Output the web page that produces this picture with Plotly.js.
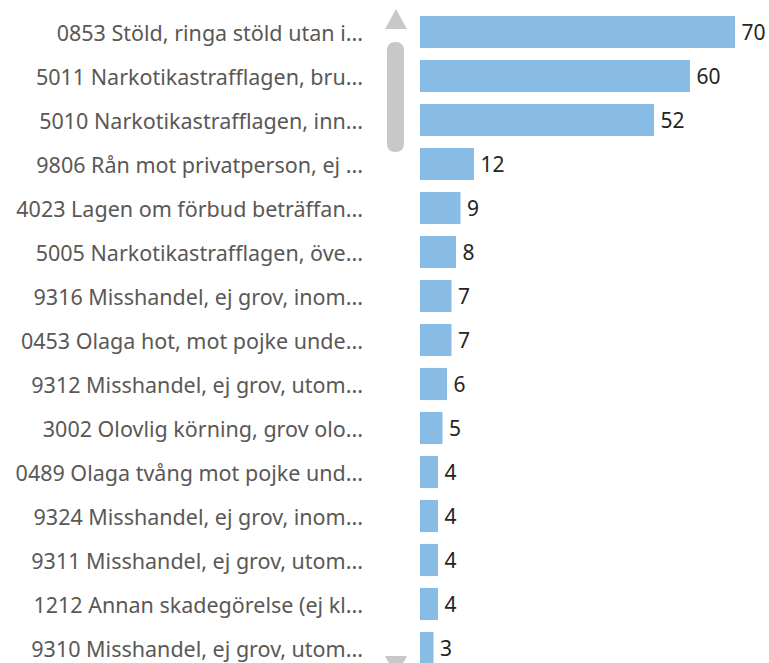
<!DOCTYPE html>
<html><head><meta charset="utf-8">
<script src="https://cdn.plot.ly/plotly-3.0.1.min.js"></script>
<style>html,body{margin:0;padding:0;background:#fff;}#chart{width:769px;height:663px;}</style>
</head><body><div id="chart"></div>
<script>
const categories = [
  "0853 Stöld, ringa stöld utan i...",
  "5011 Narkotikastrafflagen, bru...",
  "5010 Narkotikastrafflagen, inn...",
  "9806 Rån mot privatperson, ej ...",
  "4023 Lagen om förbud beträffan...",
  "5005 Narkotikastrafflagen, öve...",
  "9316 Misshandel, ej grov, inom...",
  "0453 Olaga hot, mot pojke unde...",
  "9312 Misshandel, ej grov, utom...",
  "3002 Olovlig körning, grov olo...",
  "0489 Olaga tvång mot pojke und...",
  "9324 Misshandel, ej grov, inom...",
  "9311 Misshandel, ej grov, utom...",
  "1212 Annan skadegörelse (ej kl...",
  "9310 Misshandel, ej grov, utom..."
];
const values = [70, 60, 52, 12, 9, 8, 7, 7, 6, 5, 4, 4, 4, 4, 3];

const W = 769, H = 663, L = 420;
const PW = W - L;
const X = px => (px - L) / PW;
const Y = py => 1 - py / H;
const scroll = '#c8c8c8';

// scrollbar decorations (pixel positions converted to paper coords)
const tx0 = 385, tx1 = 407, tyA = 9, tyB = 29;
const up = `M${X(tx0)},${Y(tyB)} L${X((tx0+tx1)/2)},${Y(tyA)} L${X(tx1)},${Y(tyB)} Z`;
const dyA = 656, dyB = 676;
const down = `M${X(tx0)},${Y(dyA)} L${X(tx1)},${Y(dyA)} L${X((tx0+tx1)/2)},${Y(dyB)} Z`;
const rx0 = 387, rx1 = 404, ry0 = 42, ry1 = 152, r = 8.5;
const thumb = `M${X(rx0)},${Y(ry0+r)} Q${X(rx0)},${Y(ry0)} ${X(rx0+r)},${Y(ry0)} Q${X(rx1)},${Y(ry0)} ${X(rx1)},${Y(ry0+r)} L${X(rx1)},${Y(ry1-r)} Q${X(rx1)},${Y(ry1)} ${X(rx1-r)},${Y(ry1)} Q${X(rx0)},${Y(ry1)} ${X(rx0)},${Y(ry1-r)} Z`;

const trace = {
  type: 'bar', orientation: 'h',
  x: values, y: categories,
  marker: {color: '#89bce5', line: {width: 0}},
  text: values.map(v => '\u2009' + v), textposition: 'outside',
  textfont: {family: 'Noto Sans, sans-serif', size: 21, color: '#252423'},
  cliponaxis: false, hoverinfo: 'none'
};
const pxPerUnit = 4.5;
const layout = {
  width: W, height: H,
  margin: {l: L, r: 0, t: 0, b: 0, pad: 0},
  paper_bgcolor: '#ffffff', plot_bgcolor: '#ffffff',
  bargap: 0.27,
  showlegend: false,
  xaxis: {range: [0, PW / pxPerUnit], visible: false, fixedrange: true},
  yaxis: {
    type: 'category', autorange: false,
    range: [(H - 32) / 44, -32 / 44],
    showgrid: false, zeroline: false, showline: false, ticks: '',
    ticklabelstandoff: 56,
    ticklabelshift: -1,
    tickfont: {family: 'Noto Sans, sans-serif', size: 21.5, color: '#5a5856'},
    fixedrange: true
  },
  shapes: [
    {type: 'path', xref: 'paper', yref: 'paper', path: up, fillcolor: scroll, line: {width: 0}},
    {type: 'path', xref: 'paper', yref: 'paper', path: thumb, fillcolor: scroll, line: {width: 0}},
    {type: 'path', xref: 'paper', yref: 'paper', path: down, fillcolor: scroll, line: {width: 0}}
  ]
};
Plotly.newPlot('chart', [trace], layout, {displayModeBar: false, staticPlot: true});
</script></body></html>
